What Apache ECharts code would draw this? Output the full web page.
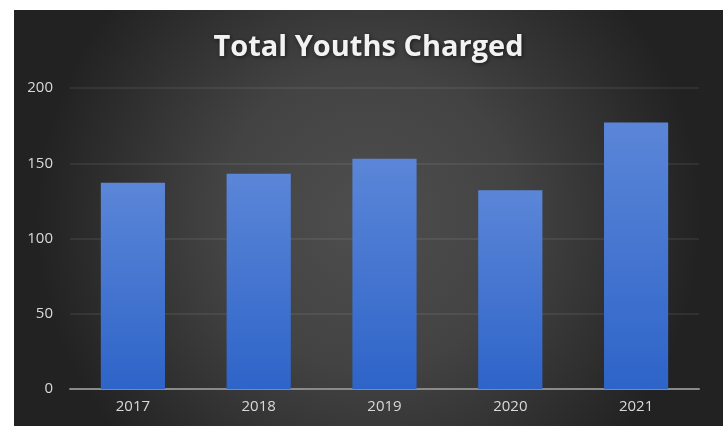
<!DOCTYPE html>
<html>
<head>
<meta charset="utf-8">
<script src="https://cdn.jsdelivr.net/npm/echarts@6/dist/echarts.min.js"></script>
<style>
  html, body { margin: 0; padding: 0; background: #fff; }
  #chart { position: absolute; left: 14px; top: 10px; width: 709px; height: 416px; }
</style>
</head>
<body>
<div id="chart"></div>
<script>
const years = ["2017", "2018", "2019", "2020", "2021"];
const charged = [137, 143, 153, 132, 177];

const chart = echarts.init(document.getElementById("chart"));
chart.setOption({
  backgroundColor: {
    type: "radial",
    x: 0.5,
    y: 0.5,
    r: 0.8,
    colorStops: [
      { offset: 0, color: "#4e4e4e" },
      { offset: 0.45, color: "#434343" },
      { offset: 1, color: "#222222" },
    ],
  },
  title: {
    text: "Total Youths Charged",
    left: "center",
    top: 18,
    textStyle: {
      color: "#f2f2f2",
      fontFamily: "Open Sans",
      fontWeight: "bold",
      fontSize: 29,
      textShadowColor: "rgba(0,0,0,0.6)",
      textShadowBlur: 4,
      textShadowOffsetX: 1,
      textShadowOffsetY: 1,
    },
  },
  grid: { left: 56, right: 24, top: 78, bottom: 37 },
  xAxis: {
    type: "category",
    data: years,
    axisLine: { lineStyle: { color: "#8a8a8a", width: 2 } },
    axisTick: { show: false },
    axisLabel: { color: "#d9d9d9", fontFamily: "Open Sans", fontSize: 15, margin: 10 },
  },
  yAxis: {
    type: "value",
    min: 0,
    max: 200,
    interval: 50,
    axisLine: { show: false },
    axisTick: { show: false },
    axisLabel: { color: "#d9d9d9", fontFamily: "Open Sans", fontSize: 15, margin: 17 },
    splitLine: { lineStyle: { color: "rgba(255,255,255,0.09)", width: 1.5 } },
  },
  series: [
    {
      type: "bar",
      data: charged,
      barCategoryGap: "49%",
      itemStyle: {
        color: {
          type: "linear",
          x: 0, y: 0, x2: 0, y2: 1,
          colorStops: [
            { offset: 0, color: "#5b86d8" },
            { offset: 1, color: "#2e64c8" },
          ],
        },
        shadowColor: "rgba(0,0,0,0.35)",
        shadowBlur: 3,
      },
    },
  ],
});
</script>
</body>
</html>
